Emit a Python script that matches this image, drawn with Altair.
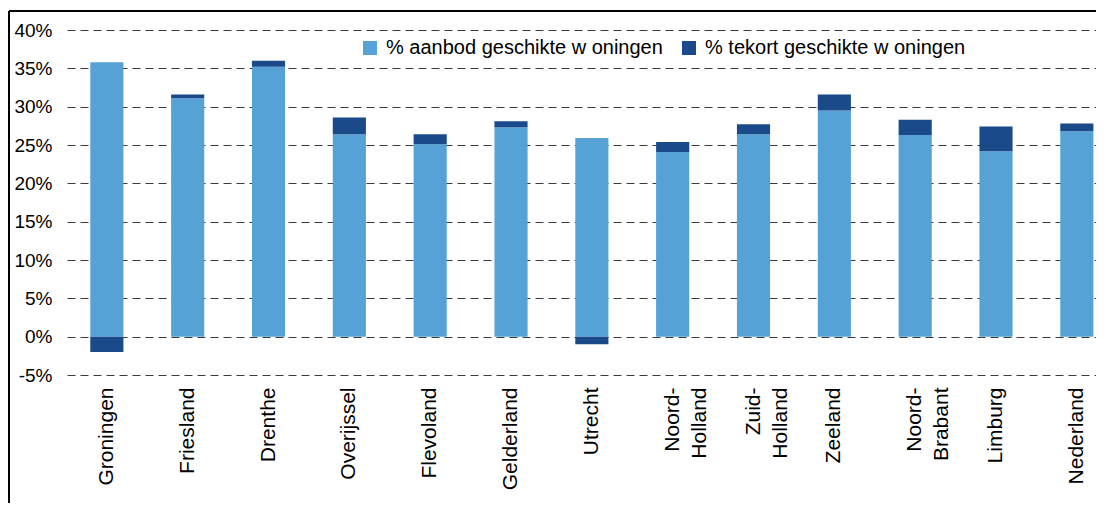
import altair as alt
import pandas as pd

provinces = ["Groningen", "Friesland", "Drenthe", "Overijssel", "Flevoland", "Gelderland",
             "Utrecht", "Noord-|Holland", "Zuid-|Holland", "Zeeland", "Noord-|Brabant",
             "Limburg", "Nederland"]
aanbod = [35.8, 31.1, 35.2, 26.4, 25.1, 27.3, 25.9, 24.1, 26.4, 29.5, 26.3, 24.2, 26.8]
tekort = [-2.0, 0.5, 0.8, 2.2, 1.3, 0.8, -1.0, 1.3, 1.3, 2.1, 2.0, 3.2, 1.0]
series = ["% aanbod geschikte w oningen", "% tekort geschikte w oningen"]
colors = ["#56A2D7", "#1A4A89"]
y_ticks = [-0.05, 0.0, 0.05, 0.10, 0.15, 0.20, 0.25, 0.30, 0.35, 0.40]

rows = []
for p, a, t in zip(provinces, aanbod, tekort):
    rows.append({"prov": p, "serie": series[0], "val": a / 100, "ord": 0})
    rows.append({"prov": p, "serie": series[1], "val": t / 100, "ord": 1})
df = pd.DataFrame(rows)

FONT = "Liberation Sans"

bars = alt.Chart(df).mark_bar().encode(
    x=alt.X("prov:N", sort=provinces, title=None,
            scale=alt.Scale(paddingInner=0.59, paddingOuter=0.16, align=0.9),
            axis=alt.Axis(labelAngle=-90, labelExpr="split(datum.value, '|')",
                          labelFont=FONT, labelFontSize=21, labelColor="#000000",
                          labelLineHeight=27, domain=False, ticks=False, tickSize=0,
                          labelPadding=12, grid=False, labelLimit=300)),
    y=alt.Y("val:Q", stack="zero", title=None,
            scale=alt.Scale(domain=[-0.05, 0.40], nice=False, zero=False),
            axis=alt.Axis(values=y_ticks, format=".0%",
                          labelExpr="replace(datum.label, '\u2212', '-')",
                          labelFont=FONT, labelFontSize=19,
                          labelColor="#000000", domain=False, ticks=False, tickSize=0,
                          labelPadding=15, grid=True, gridDash=[8, 5],
                          gridColor="#3a3a3a", gridWidth=1)),
    color=alt.Color("serie:N", sort=series,
                    scale=alt.Scale(domain=series, range=colors),
                    legend=alt.Legend(title=None, orient="none", legendX=293, legendY=8,
                                      direction="horizontal", symbolType="square",
                                      symbolSize=196, symbolStrokeWidth=0,
                                      labelFont=FONT, labelFontSize=20, labelLimit=500,
                                      labelColor="#000000", labelOffset=6,
                                      columnPadding=16, padding=0)),
    order=alt.Order("ord:Q"),
)

frame_df = pd.DataFrame({"k": [0]})
left_line = alt.Chart(frame_df).mark_rule(color="#000000", strokeWidth=2).encode(
    x=alt.value(-58), y=alt.value(-19), y2=alt.value(480))
top_line = alt.Chart(frame_df).mark_rule(color="#000000", strokeWidth=2).encode(
    x=alt.value(-58), x2=alt.value(1040), y=alt.value(-19))

chart = alt.layer(bars, left_line, top_line).properties(
    width=1029, height=345,
    padding={"left": 59, "top": 22, "right": 0, "bottom": 128},
    autosize=alt.AutoSizeParams(type="none"),
).configure_view(stroke=None)

chart.save("out.html", embed_options={"renderer": "svg", "actions": False})
